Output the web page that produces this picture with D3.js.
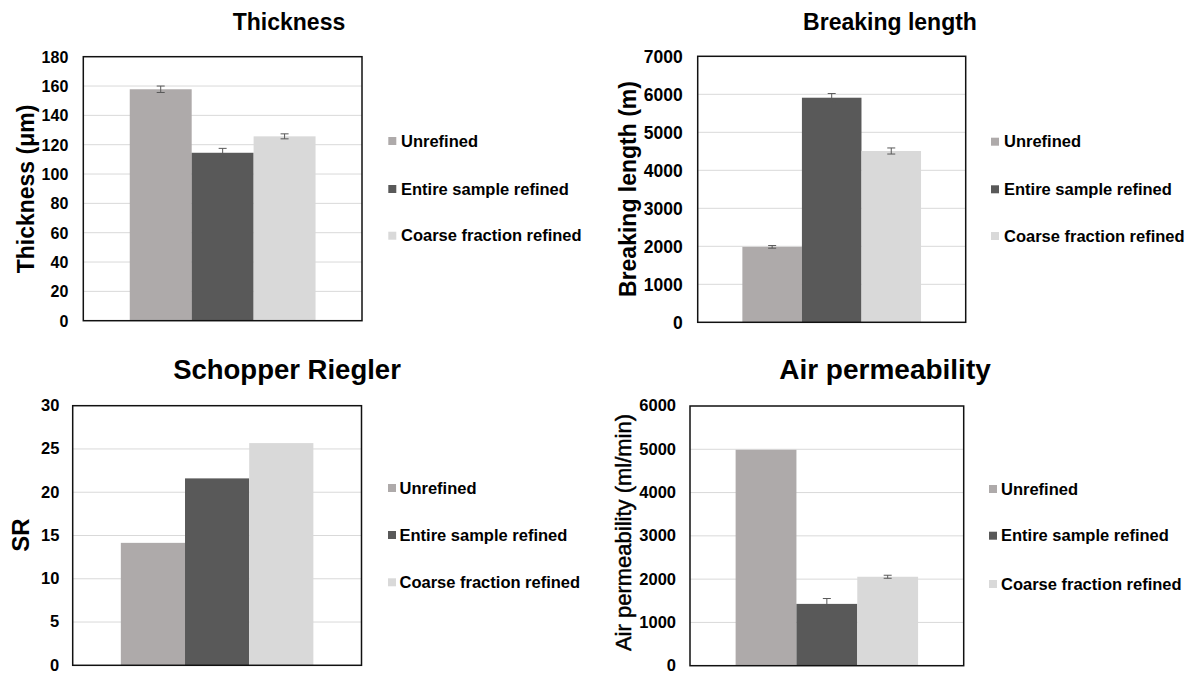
<!DOCTYPE html>
<html>
<head>
<meta charset="utf-8">
<script src="https://cdn.jsdelivr.net/npm/d3@7"></script>
<style>
  html, body { margin: 0; padding: 0; background: #fff; }
  svg { display: block; font-family: "Liberation Sans", Arial, sans-serif; }
</style>
</head>
<body>
<svg id="chart" width="1196" height="673"></svg>
<script>
// Sample treatments shared by all four panels
const categories = ["Unrefined", "Entire sample refined", "Coarse fraction refined"];

// Thickness (µm)
const thicknessValues = [157.8, 114.5, 125.7];
const thicknessErrors = [2.2, 3.0, 1.7];
const thicknessTicks = [0, 20, 40, 60, 80, 100, 120, 140, 160, 180];

// Breaking length (m)
const breakingValues = [1985, 5910, 4508];
const breakingErrors = [35, 110, 80];
const breakingTicks = [0, 1000, 2000, 3000, 4000, 5000, 6000, 7000];

// Schopper Riegler (°SR)
const srValues = [14.15, 21.6, 25.68];
const srTicks = [0, 5, 10, 15, 20, 25, 30];

// Air permeability (ml/min)
const airValues = [4988, 1428, 2055];
const airErrors = [null, 124, 35];
const airTicks = [0, 1000, 2000, 3000, 4000, 5000, 6000];

// Fill colours for the three treatments
const palette = ["#AEAAAA", "#595959", "#D9D9D9"];

// Panel layout
const panels = [
  {
    title: "Thickness", yLabel: "Thickness (μm)",
    values: thicknessValues, errors: thicknessErrors, ticks: thicknessTicks,
    box: { x0: 83.3, x1: 362, y0: 56.7, y1: 320.7 },
    titleX: 289, titleY: 30, titleSize: 23,
    yLabelX: 26, yLabelY: 189, yLabelSize: 23, yLabelWeight: "bold", yLabelStroke: 0,
    tickFont: 16, tickPad: 15, tickDy: "0.35em",
    legendMarkX: 388.3, legendTextX: 401, legendRows: [141, 189, 235.7]
  },
  {
    title: "Breaking length", yLabel: "Breaking length (m)",
    values: breakingValues, errors: breakingErrors, ticks: breakingTicks,
    box: { x0: 697.7, x1: 965.7, y0: 56.3, y1: 322.3 },
    titleX: 890, titleY: 30, titleSize: 23,
    yLabelX: 628, yLabelY: 189, yLabelSize: 23, yLabelWeight: "bold", yLabelStroke: 0,
    tickFont: 17.5, tickPad: 15, tickDy: "0.35em",
    legendMarkX: 991, legendTextX: 1004, legendRows: [141.7, 189.3, 236]
  },
  {
    title: "Schopper Riegler", yLabel: "SR",
    values: srValues, errors: null, ticks: srTicks,
    box: { x0: 72.7, x1: 361.5, y0: 405.7, y1: 665.3 },
    titleX: 287, titleY: 379, titleSize: 27.5,
    yLabelX: 21, yLabelY: 535, yLabelSize: 24, yLabelWeight: "bold", yLabelStroke: 0,
    tickFont: 16.5, tickPad: 13.4, tickDy: "0.3em",
    legendMarkX: 388, legendTextX: 399.5, legendRows: [488, 535, 582.3]
  },
  {
    title: "Air permeability", yLabel: "Air permeability (ml/min)",
    values: airValues, errors: airErrors, ticks: airTicks,
    box: { x0: 690, x1: 963.7, y0: 406, y1: 665.7 },
    titleX: 885, titleY: 379, titleSize: 28,
    yLabelX: 623, yLabelY: 532.5, yLabelSize: 22, yLabelWeight: "normal", yLabelStroke: 0.45,
    tickFont: 16.5, tickPad: 14, tickDy: "0.3em",
    legendMarkX: 989, legendTextX: 1001, legendRows: [489, 535.7, 584]
  }
];

const svg = d3.select("#chart");

panels.forEach(p => {
  const g = svg.append("g");
  const { x0, x1, y0, y1 } = p.box;
  const width = x1 - x0;

  const y = d3.scaleLinear()
    .domain([0, d3.max(p.ticks)])
    .range([y1, y0]);

  // single category: bars occupy the middle two-thirds (50% gap width)
  const groupWidth = width / 1.5;
  const x = d3.scaleBand()
    .domain(categories)
    .range([x0 + (width - groupWidth) / 2, x0 + (width + groupWidth) / 2])
    .paddingInner(0)
    .paddingOuter(0);

  // horizontal gridlines
  g.append("g")
    .selectAll("line")
    .data(p.ticks.filter(t => t > 0 && t < d3.max(p.ticks)))
    .join("line")
    .attr("x1", x0).attr("x2", x1)
    .attr("y1", d => y(d)).attr("y2", d => y(d))
    .attr("stroke", "#D9D9D9")
    .attr("stroke-width", 1);

  // bars
  g.append("g")
    .selectAll("rect")
    .data(p.values)
    .join("rect")
    .attr("x", (d, i) => x(categories[i]))
    .attr("width", x.bandwidth())
    .attr("y", d => y(d))
    .attr("height", d => y(0) - y(d))
    .attr("fill", (d, i) => palette[i]);

  // error bars
  if (p.errors) {
    const eg = g.append("g")
      .attr("stroke", "#595959")
      .attr("stroke-width", 1)
      .attr("fill", "none");
    p.values.forEach((v, i) => {
      const e = p.errors[i];
      if (e == null) return;
      const cx = x(categories[i]) + x.bandwidth() / 2;
      const top = y(v + e), bot = y(v - e);
      eg.append("line").attr("x1", cx).attr("x2", cx).attr("y1", top).attr("y2", bot);
      eg.append("line").attr("x1", cx - 4).attr("x2", cx + 4).attr("y1", top).attr("y2", top);
      eg.append("line").attr("x1", cx - 4).attr("x2", cx + 4).attr("y1", bot).attr("y2", bot);
    });
  }

  // plot border
  g.append("rect")
    .attr("x", x0).attr("y", y0)
    .attr("width", width).attr("height", y1 - y0)
    .attr("fill", "none")
    .attr("stroke", "#111")
    .attr("stroke-width", 1.5);

  // y axis tick labels
  const axis = d3.axisLeft(y)
    .tickValues(p.ticks)
    .tickSize(0)
    .tickPadding(p.tickPad)
    .tickFormat(d3.format("d"));
  const ag = g.append("g")
    .attr("transform", `translate(${x0},0)`)
    .call(axis);
  ag.select(".domain").remove();
  ag.selectAll("text")
    .attr("font-family", "'Liberation Sans', Arial, sans-serif")
    .attr("font-size", p.tickFont)
    .attr("font-weight", "bold")
    .attr("dy", p.tickDy)
    .attr("fill", "#000");

  // title
  g.append("text")
    .attr("x", p.titleX).attr("y", p.titleY)
    .attr("text-anchor", "middle")
    .attr("font-size", p.titleSize)
    .attr("font-weight", "bold")
    .attr("fill", "#000")
    .text(p.title);

  // y axis title
  const yl = g.append("text")
    .attr("transform", `translate(${p.yLabelX},${p.yLabelY}) rotate(-90)`)
    .attr("text-anchor", "middle")
    .attr("dy", "0.35em")
    .attr("font-size", p.yLabelSize)
    .attr("font-weight", p.yLabelWeight)
    .attr("fill", "#000")
    .text(p.yLabel);
  if (p.yLabelStroke) {
    yl.attr("stroke", "#000").attr("stroke-width", p.yLabelStroke);
  }

  // legend
  const lg = g.append("g");
  categories.forEach((c, i) => {
    const ry = p.legendRows[i];
    lg.append("rect")
      .attr("x", p.legendMarkX).attr("y", ry - 4)
      .attr("width", 8).attr("height", 8)
      .attr("fill", palette[i]);
    lg.append("text")
      .attr("x", p.legendTextX).attr("y", ry)
      .attr("dy", "0.35em")
      .attr("font-size", 16.5)
      .attr("font-weight", "bold")
      .attr("fill", "#000")
      .text(c);
  });
});
</script>
</body>
</html>
